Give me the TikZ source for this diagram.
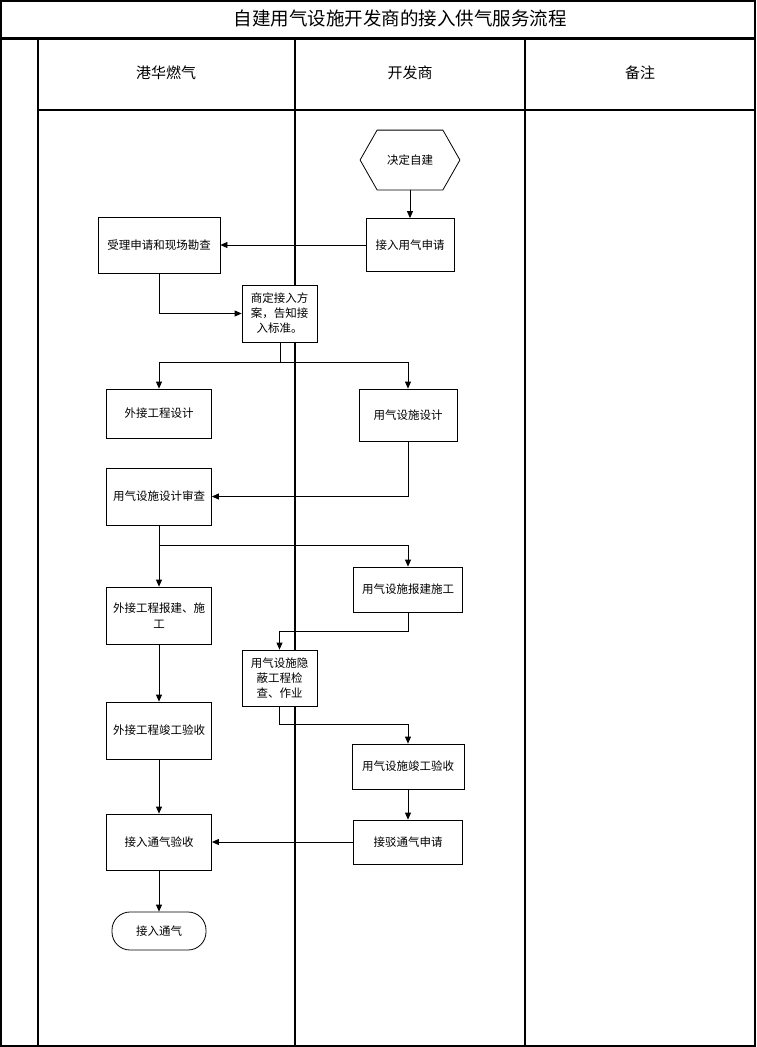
\documentclass[tikz,border=0pt]{standalone}
\usepackage{fontspec}
\newfontfamily\cjk{Noto Sans CJK SC}
\usetikzlibrary{arrows.meta}
\begin{document}
\begin{tikzpicture}[x=1pt,y=-1pt,
  lane/.style={line width=1.5pt},
  box/.style={draw, line width=0.8pt, fill=white, font=\cjk\fontsize{11.5}{15}\selectfont, align=center, inner sep=1pt},
  arr/.style={line width=0.8pt, -{Triangle[length=7pt,width=6pt]}},
  con/.style={line width=0.8pt},
  hdr/.style={font=\cjk\fontsize{15}{18}\selectfont}]
\useasboundingbox (0,0) rectangle (756,1047);
% frame and lanes
\draw[line width=2pt] (1,1) rectangle (755,1046);
\draw[line width=3pt] (0,38) -- (756,38);
\draw[lane] (38,38) -- (38,1046);
\draw[lane] (295,38) -- (295,1046);
\draw[lane] (525,38) -- (525,1046);
\draw[lane] (38,110) -- (755,110);
\node[font=\cjk\fontsize{18.5}{22}\selectfont] (title) at (400,18) {自建用气设施开发商的接入供气服务流程};
\node[hdr] (h1) at (166,73) {港华燃气};
\node[hdr] (h2) at (410,73) {开发商};
\node[hdr] (h3) at (640,73) {备注};
% nodes
\node[box, draw=none, fill=none, minimum width=99pt, minimum height=59pt] (hex) at (410,160) {决定自建};
\draw[line width=0.8pt] (hex.west) -- ([xshift=17pt]hex.north west) -- ([xshift=-17pt]hex.north east) -- (hex.east) -- ([xshift=-17pt]hex.south east) -- ([xshift=17pt]hex.south west) -- cycle;
\node[box, minimum width=88pt, minimum height=53pt] (apply) at (410,245) {接入用气申请};
\node[box, minimum width=122pt, minimum height=56pt] (accept) at (159,245) {受理申请和现场勘查};
\node[box, minimum width=75pt, minimum height=57pt] (plan) at (279.5,313.5) {商定接入方\\案，告知接\\入标准。};
\node[box, minimum width=105pt, minimum height=49pt] (extdesign) at (159,413.5) {外接工程设计};
\node[box, minimum width=98pt, minimum height=52pt] (gasdesign) at (408,415) {用气设施设计};
\node[box, minimum width=105pt, minimum height=57pt] (review) at (159,496.5) {用气设施设计审查};
\node[box, minimum width=105pt, minimum height=57pt, font=\cjk\fontsize{11.5}{16}\selectfont] (extbuild) at (159,615.5) {外接工程报建、施\\工};
\node[box, minimum width=109pt, minimum height=45pt] (gasbuild) at (408,589.5) {用气设施报建施工};
\node[box, minimum width=75pt, minimum height=56pt] (hidden) at (279.5,678) {用气设施隐\\蔽工程检\\查、作业};
\node[box, minimum width=105pt, minimum height=57pt] (extaccept) at (159,730.5) {外接工程竣工验收};
\node[box, minimum width=112pt, minimum height=45pt] (gasaccept) at (408,766.5) {用气设施竣工验收};
\node[box, minimum width=105pt, minimum height=56pt] (gasin) at (159,842) {接入通气验收};
\node[box, minimum width=109pt, minimum height=44pt] (connapply) at (408,842) {接驳通气申请};
\node[box, minimum width=94pt, minimum height=38pt, rounded corners=18pt] (term) at (159,931) {接入通气};
% connectors
\coordinate (j1) at (280,362);
\coordinate (j2) at (159,545);
\draw[arr] (hex.south) -- (hex.south |- apply.north);
\draw[arr] (apply) -- (accept);
\draw[arr] (accept.south) |- (plan.west);
\draw[con] (plan.south -| j1) -- (j1);
\draw[arr] (j1) -| (extdesign.north);
\draw[arr] (j1) -| (gasdesign.north);
\draw[arr] (gasdesign.south) |- (review.east);
\draw[arr] (review.south) -- (extbuild.north);
\draw[arr] (j2) -| (gasbuild.north);
\draw[arr] (gasbuild.south) -- ++(0,19) -| (hidden.north);
\draw[arr] (extbuild) -- (extaccept);
\draw[arr] (hidden.south) -- ++(0,18) -| (gasaccept.north);
\draw[arr] (gasaccept) -- (connapply);
\draw[arr] (connapply) -- (gasin);
\draw[arr] (extaccept) -- (gasin);
\draw[arr] (gasin) -- (term);
\end{tikzpicture}
\end{document}
